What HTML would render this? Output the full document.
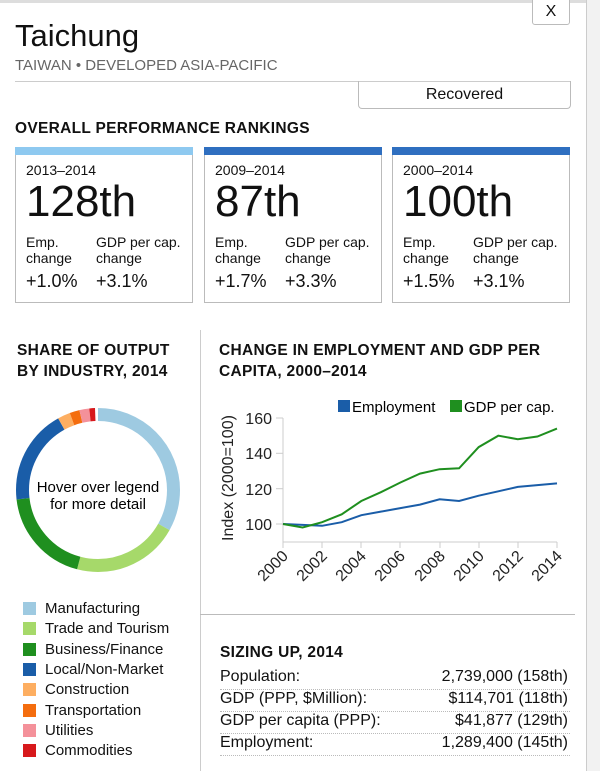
<!DOCTYPE html>
<html><head><style>
body{margin:0;width:600px;height:771px;overflow:hidden;background:#fff;font-family:"Liberation Sans",sans-serif;color:#111;position:relative}
.a{position:absolute;white-space:nowrap}
.card{position:absolute;top:147px;width:178px;height:156px;border:1px solid #bbb;border-top:none;box-sizing:border-box}
.card .bar{height:8px;margin:0 -1px}
.h{font-weight:bold;font-size:15.5px;letter-spacing:0.3px}
.row{position:absolute;left:220px;width:350px;border-bottom:1px dotted #bbb;font-size:16px;height:21px}
.row span{position:absolute;right:2px}
.leg{position:absolute;left:23px;font-size:15px}
.leg i{display:inline-block;width:13px;height:13px;margin-right:9px;vertical-align:-2px}
.sm{font-size:14px;line-height:16px}
</style></head><body>
<div class="a" style="left:0;top:0;width:600px;height:3px;background:#ddd"></div>
<div class="a" style="left:586px;top:0;width:14px;height:771px;background:#f2f2f2;border-left:1px solid #ccc"></div>
<div class="a" style="left:532px;top:-4px;width:36px;height:27px;border:1px solid #bbb;border-radius:3px;font-size:16px;text-align:center;line-height:30px;background:#fff">X</div>
<div class="a" style="left:15px;top:18px;font-size:31px">Taichung</div>
<div class="a" style="left:15px;top:57px;font-size:15px;color:#666">TAIWAN • DEVELOPED ASIA-PACIFIC</div>
<div class="a" style="left:15px;top:81px;width:556px;border-top:1px solid #ccc"></div>
<div class="a" style="left:358px;top:81px;width:211px;height:27px;border:1px solid #bbb;border-top:none;border-radius:0 0 4px 4px;font-size:16px;text-align:center;line-height:28px">Recovered</div>
<div class="a h" style="left:15px;top:120px">OVERALL PERFORMANCE RANKINGS</div>

<div class="card" style="left:15px"><div class="bar" style="background:#8ec9f0"></div>
<div class="a" style="left:10px;top:15px;font-size:14px">2013–2014</div>
<div class="a" style="left:10px;top:30px;font-size:44px">128th</div>
<div class="a sm" style="left:10px;top:87px">Emp.<br>change</div>
<div class="a sm" style="left:80px;top:87px">GDP per cap.<br>change</div>
<div class="a" style="left:10px;top:124px;font-size:18px">+1.0%</div>
<div class="a" style="left:80px;top:124px;font-size:18px">+3.1%</div></div>

<div class="card" style="left:204px"><div class="bar" style="background:#2f6fc0"></div>
<div class="a" style="left:10px;top:15px;font-size:14px">2009–2014</div>
<div class="a" style="left:10px;top:30px;font-size:44px">87th</div>
<div class="a sm" style="left:10px;top:87px">Emp.<br>change</div>
<div class="a sm" style="left:80px;top:87px">GDP per cap.<br>change</div>
<div class="a" style="left:10px;top:124px;font-size:18px">+1.7%</div>
<div class="a" style="left:80px;top:124px;font-size:18px">+3.3%</div></div>

<div class="card" style="left:392px"><div class="bar" style="background:#2f6fc0"></div>
<div class="a" style="left:10px;top:15px;font-size:14px">2000–2014</div>
<div class="a" style="left:10px;top:30px;font-size:44px">100th</div>
<div class="a sm" style="left:10px;top:87px">Emp.<br>change</div>
<div class="a sm" style="left:80px;top:87px">GDP per cap.<br>change</div>
<div class="a" style="left:10px;top:124px;font-size:18px">+1.5%</div>
<div class="a" style="left:80px;top:124px;font-size:18px">+3.1%</div></div>

<div class="a" style="left:200px;top:330px;width:1px;height:441px;background:#ccc"></div>
<div class="a" style="left:200px;top:614px;width:375px;height:1px;background:#bbb"></div>

<div class="a h" style="left:17px;top:340px;line-height:21px">SHARE OF OUTPUT<br>BY INDUSTRY, 2014</div>
<div class="a h" style="left:219px;top:340px;line-height:21px">CHANGE IN EMPLOYMENT AND GDP PER<br>CAPITA, 2000–2014</div>

<svg class="a" style="left:0;top:0" width="600" height="771">
<g transform="rotate(-90 98 490)" fill="none" stroke-width="13">
<circle cx="98" cy="490" r="75.5" stroke="#9ecae1" stroke-dasharray="157.1 600" stroke-dashoffset="0"/>
<circle cx="98" cy="490" r="75.5" stroke="#a6d96a" stroke-dasharray="99.5 600" stroke-dashoffset="-157.1"/>
<circle cx="98" cy="490" r="75.5" stroke="#1f8f1f" stroke-dasharray="90.3 600" stroke-dashoffset="-256.6"/>
<circle cx="98" cy="490" r="75.5" stroke="#1a5da8" stroke-dasharray="89 600" stroke-dashoffset="-346.9"/>
<circle cx="98" cy="490" r="75.5" stroke="#fdae61" stroke-dasharray="11.8 600" stroke-dashoffset="-435.9"/>
<circle cx="98" cy="490" r="75.5" stroke="#f46d0e" stroke-dasharray="9.2 600" stroke-dashoffset="-447.7"/>
<circle cx="98" cy="490" r="75.5" stroke="#f4919a" stroke-dasharray="9.2 600" stroke-dashoffset="-456.9"/>
<circle cx="98" cy="490" r="75.5" stroke="#d7191c" stroke-dasharray="5.3 600" stroke-dashoffset="-466.1"/>
</g>
<text x="98" y="492" font-size="15" text-anchor="middle" font-family="Liberation Sans">Hover over legend</text>
<text x="98" y="509" font-size="15" text-anchor="middle" font-family="Liberation Sans">for more detail</text>

<g stroke="#ccc" stroke-width="1">
<line x1="283" y1="418" x2="283" y2="542"/><line x1="283" y1="542" x2="557" y2="542"/>
<line x1="276" y1="418" x2="283" y2="418"/><line x1="276" y1="453.3" x2="283" y2="453.3"/><line x1="276" y1="488.7" x2="283" y2="488.7"/><line x1="276" y1="524" x2="283" y2="524"/>
<line x1="283" y1="542" x2="283" y2="548"/><line x1="322" y1="542" x2="322" y2="548"/><line x1="361" y1="542" x2="361" y2="548"/><line x1="400" y1="542" x2="400" y2="548"/><line x1="440" y1="542" x2="440" y2="548"/><line x1="479" y1="542" x2="479" y2="548"/><line x1="518" y1="542" x2="518" y2="548"/><line x1="557" y1="542" x2="557" y2="548"/>
</g>
<g font-family="Liberation Sans" font-size="16" text-anchor="end" fill="#222">
<text x="272" y="424">160</text><text x="272" y="459">140</text><text x="272" y="495">120</text><text x="272" y="530">100</text>
<text transform="translate(289 557) rotate(-45)">2000</text>
<text transform="translate(328 557) rotate(-45)">2002</text>
<text transform="translate(367 557) rotate(-45)">2004</text>
<text transform="translate(406 557) rotate(-45)">2006</text>
<text transform="translate(446 557) rotate(-45)">2008</text>
<text transform="translate(485 557) rotate(-45)">2010</text>
<text transform="translate(524 557) rotate(-45)">2012</text>
<text transform="translate(563 557) rotate(-45)">2014</text>
<text transform="translate(233 478) rotate(-90)" text-anchor="middle">Index (2000=100)</text>
</g>
<polyline fill="none" stroke="#1a5da8" stroke-width="2" points="283,524 302.6,524.9 322.1,525.8 341.7,522.2 361.3,515.2 380.9,511.6 400.4,508.1 420,504.6 439.6,499.3 459.1,501 478.7,495.7 498.3,491.3 517.8,486.9 537.4,485.1 557,483.4"/>
<polyline fill="none" stroke="#1f8f1f" stroke-width="2" points="283,524 302.6,527.5 322.1,522.2 341.7,514.3 361.3,501 380.9,492.2 400.4,482.5 420,473.6 439.6,469.2 459.1,468.3 478.7,447.1 498.3,435.7 517.8,439.2 537.4,436.5 557,428.6"/>
<rect x="338" y="400" width="12" height="12" fill="#1a5da8"/>
<text x="352" y="412" font-family="Liberation Sans" font-size="15">Employment</text>
<rect x="450" y="400" width="12" height="12" fill="#1f8f1f"/>
<text x="464" y="412" font-family="Liberation Sans" font-size="15">GDP per cap.</text>
</svg>

<div class="leg" style="top:600px"><i style="background:#9ecae1"></i>Manufacturing</div>
<div class="leg" style="top:620px"><i style="background:#a6d96a"></i>Trade and Tourism</div>
<div class="leg" style="top:641px"><i style="background:#1f8f1f"></i>Business/Finance</div>
<div class="leg" style="top:661px"><i style="background:#1a5da8"></i>Local/Non-Market</div>
<div class="leg" style="top:681px"><i style="background:#fdae61"></i>Construction</div>
<div class="leg" style="top:702px"><i style="background:#f46d0e"></i>Transportation</div>
<div class="leg" style="top:722px"><i style="background:#f4919a"></i>Utilities</div>
<div class="leg" style="top:742px"><i style="background:#d7191c"></i>Commodities</div>

<div class="a h" style="left:220px;top:644px">SIZING UP, 2014</div>
<div class="row" style="top:668px">Population:<span>2,739,000 (158th)</span></div>
<div class="row" style="top:690px">GDP (PPP, $Million):<span>$114,701 (118th)</span></div>
<div class="row" style="top:712px">GDP per capita (PPP):<span>$41,877 (129th)</span></div>
<div class="row" style="top:734px">Employment:<span>1,289,400 (145th)</span></div>
</body></html>
